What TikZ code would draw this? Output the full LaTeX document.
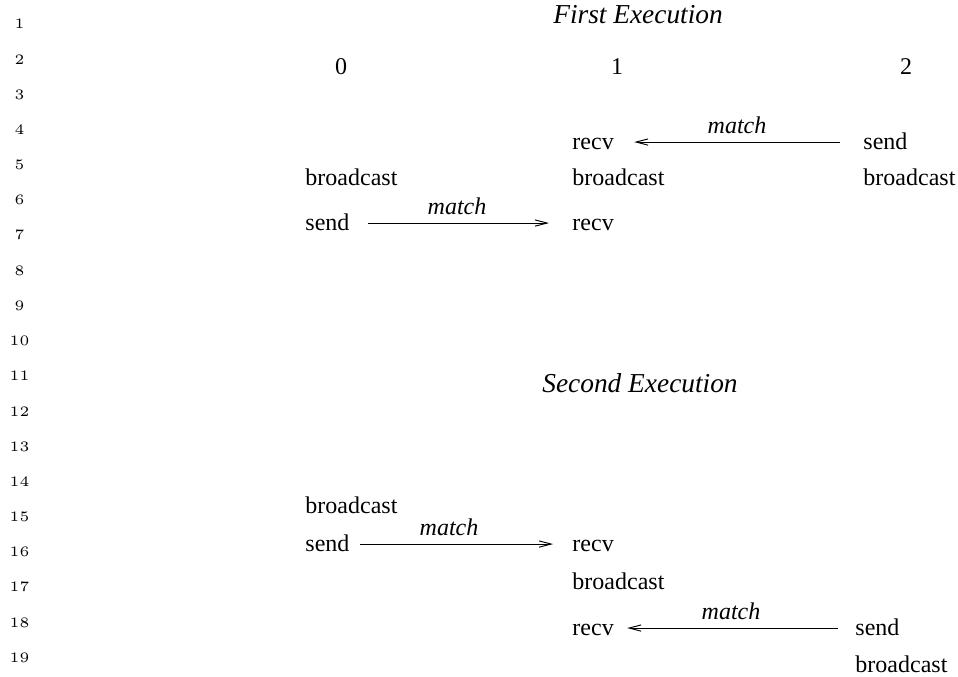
\documentclass[tikz,border=0pt]{standalone}
\usepackage{fontspec}
\setmainfont{Liberation Serif}
\newfontfamily\lnfont{lmroman5-regular}[Extension=.otf]
\usetikzlibrary{arrows.meta}
\tikzset{
  txt/.style={inner sep=0pt, anchor=base west, font=\fontsize{10}{12}\selectfont},
  colnum/.style={inner sep=0pt, anchor=base, font=\fontsize{10}{12}\selectfont},
  title/.style={inner sep=0pt, anchor=base, font=\fontsize{11.4}{13}\selectfont\itshape},
  lbl/.style={inner sep=0pt, anchor=base, font=\fontsize{10}{12}\selectfont\itshape},
  lnum/.style={inner sep=0pt, anchor=center, font=\lnfont\fontsize{6}{7}\selectfont},
  msg/.style={line width=0.4pt, -{Straight Barb[length=5pt,width=2.6pt,line width=0.4pt]}}
}
\begin{document}
\begin{tikzpicture}[x=0.41667pt, y=-0.41667pt]
\useasboundingbox (0,0) rectangle (958,676);
% line numbers
\foreach \n in {1,...,19} {
  \node[lnum] (ln\n) at (19.5, {24+35.2*(\n-1)}) {\n};
}
% First execution
\node[title] (t1) at (638,23) {First Execution};
\node[colnum] (c0) at (341,74) {0};
\node[colnum] (c1) at (617,74) {1};
\node[colnum] (c2) at (906,74) {2};
\node[txt] (a1r) at (572,149) {recv};
\node[txt] (a2s) at (863,149) {send};
\node[txt] (b0) at (305,185) {broadcast};
\node[txt] (b1) at (572,185) {broadcast};
\node[txt] (b2) at (863,185) {broadcast};
\node[txt] (c0s) at (305,230) {send};
\node[txt] (c1r) at (572,230) {recv};
\draw[msg, shorten <=9.6pt, shorten >=8.3pt] ([yshift=2.9pt]a2s.base west) -- ([yshift=2.9pt]a1r.base east);
\draw[msg, shorten <=7.5pt, shorten >=9.6pt] ([yshift=2.9pt]c0s.base east) -- ([yshift=2.9pt]c1r.base west);
\node[lbl] (mA) at (737,133) {match};
\node[lbl] (mC) at (457,214) {match};
% Second execution
\node[title] (t2) at (640,392) {Second Execution};
\node[txt] (d0) at (305,513) {broadcast};
\node[txt] (e0s) at (305,551) {send};
\node[txt] (e1r) at (572,551) {recv};
\node[txt] (f1) at (572,589) {broadcast};
\node[txt] (g1r) at (572,635) {recv};
\node[txt] (g2s) at (855,635) {send};
\node[txt] (h2) at (855,672) {broadcast};
\draw[msg, shorten <=4.2pt, shorten >=7.9pt] ([yshift=2.9pt]e0s.base east) -- ([yshift=2.9pt]e1r.base west);
\draw[msg, shorten <=7.1pt, shorten >=5.4pt] ([yshift=2.9pt]g2s.base west) -- ([yshift=2.9pt]g1r.base east);
\node[lbl] (mE) at (449,535) {match};
\node[lbl] (mG) at (731,619) {match};
\end{tikzpicture}
\end{document}
